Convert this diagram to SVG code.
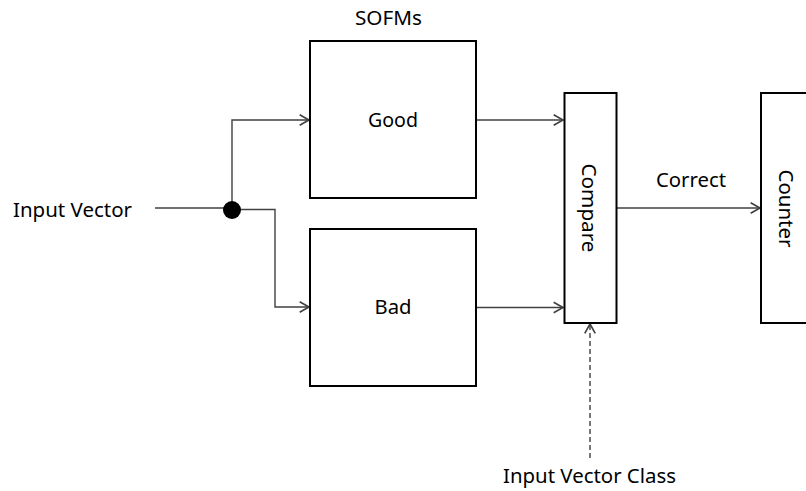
<svg xmlns="http://www.w3.org/2000/svg" width="806" height="491" viewBox="0 0 806 491">
<style>
.box{fill:#fff;stroke:#000;stroke-width:2}
.ln{fill:none;stroke:#404040;stroke-width:1.4}
.dash{stroke-dasharray:5 3}
text{font-family:"Noto Sans","Liberation Sans",sans-serif;font-size:20.5px;fill:#000}
</style>
<defs>
<marker id="arr" markerUnits="userSpaceOnUse" markerWidth="14" markerHeight="14" viewBox="-10 -6 12 12" refX="0" refY="0" orient="auto">
<path d="M-8,-4.5 L0,0 L-8,4.5" fill="none" stroke="#404040" stroke-width="1.4"/>
</marker>
</defs>
<rect width="806" height="491" fill="#fff"/>
<g id="connectors">
<path class="ln" d="M155,208 H232"/>
<path class="ln" d="M232,208 V120 H309" marker-end="url(#arr)"/>
<path class="ln" d="M232,209.5 H275 V307 H309" marker-end="url(#arr)"/>
<path class="ln" d="M477,120 H563" marker-end="url(#arr)"/>
<path class="ln" d="M477,307.5 H563" marker-end="url(#arr)"/>
<path class="ln" d="M617,208 H760" marker-end="url(#arr)"/>
<path class="ln dash" d="M590,458 V324" marker-end="url(#arr)"/>
<circle cx="232" cy="210" r="9" fill="#000"/>
</g>
<g id="input-vector"><text x="13" y="217" textLength="119" lengthAdjust="spacingAndGlyphs">Input Vector</text></g>
<g id="sofms-label"><text x="355" y="25" textLength="67" lengthAdjust="spacingAndGlyphs">SOFMs</text></g>
<g id="good">
<rect class="box" x="310" y="41" width="166" height="157"/>
<text x="393" y="127" text-anchor="middle" textLength="50" lengthAdjust="spacingAndGlyphs">Good</text>
</g>
<g id="bad">
<rect class="box" x="310" y="229" width="166" height="157"/>
<text x="393" y="314" text-anchor="middle" textLength="37" lengthAdjust="spacingAndGlyphs">Bad</text>
</g>
<g id="compare">
<rect class="box" x="564.5" y="93" width="52" height="230"/>
<text transform="translate(582,208) rotate(90)" x="0" y="0" text-anchor="middle" textLength="89" lengthAdjust="spacingAndGlyphs">Compare</text>
</g>
<g id="correct-label"><text x="656" y="187" textLength="70" lengthAdjust="spacingAndGlyphs">Correct</text></g>
<g id="counter">
<rect class="box" x="761" y="93" width="60" height="230"/>
<text transform="translate(779,208.5) rotate(90)" x="0" y="0" text-anchor="middle" textLength="78" lengthAdjust="spacingAndGlyphs">Counter</text>
</g>
<g id="input-vector-class"><text x="503" y="483" textLength="173" lengthAdjust="spacingAndGlyphs">Input Vector Class</text></g>
</svg>
